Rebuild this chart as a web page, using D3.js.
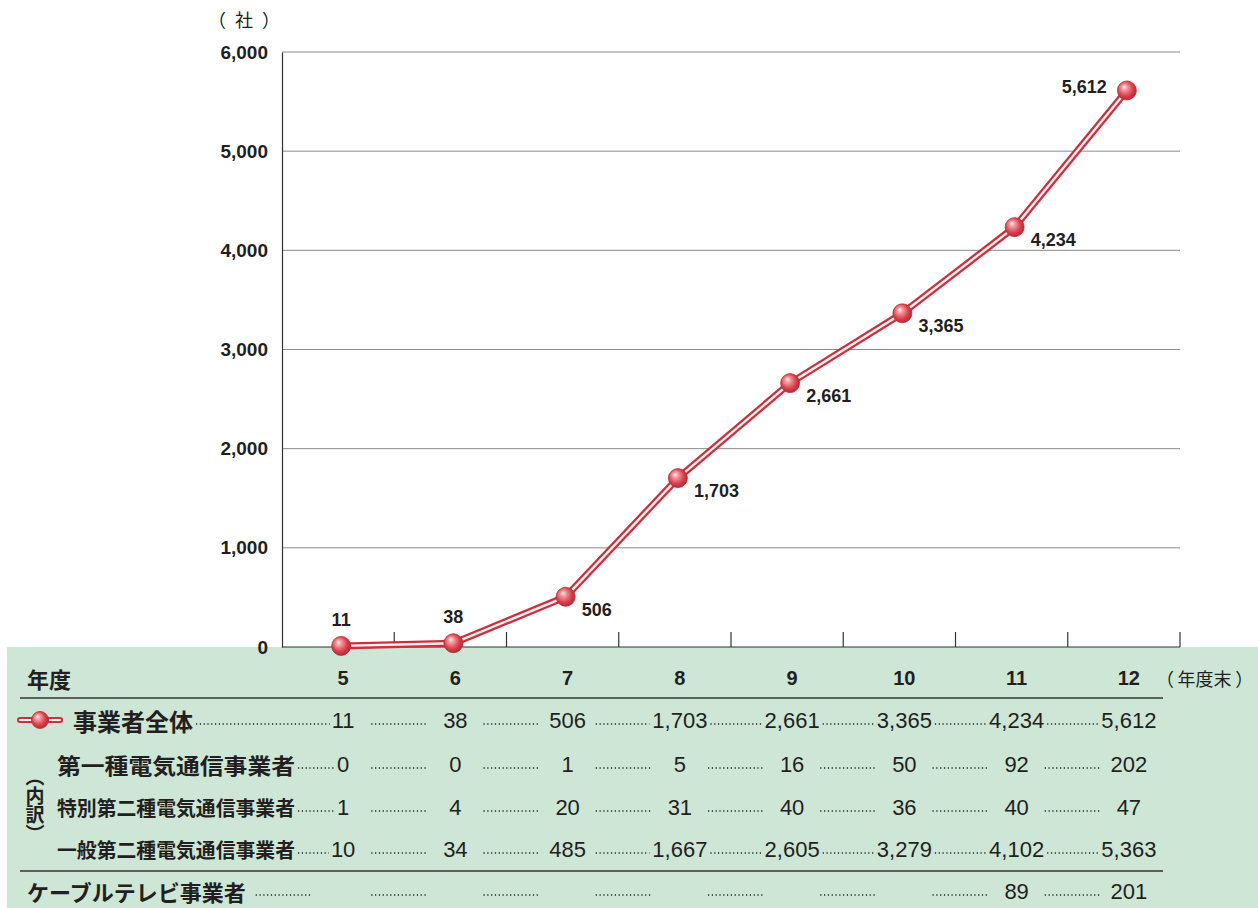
<!DOCTYPE html>
<html>
<head>
<meta charset="utf-8">
<script src="https://cdn.jsdelivr.net/npm/d3@7"></script>
<style>
  body { margin: 0; background: #fff; }
  svg { display: block; }
</style>
</head>
<body>
<div id="chart"></div>
<script>
// values
var years = ["5", "6", "7", "8", "9", "10", "11", "12"];
var total = [11, 38, 506, 1703, 2661, 3365, 4234, 5612];
var type1 = [0, 0, 1, 5, 16, 50, 92, 202];
var special2 = [1, 4, 20, 31, 40, 36, 40, 47];
var general2 = [10, 34, 485, 1667, 2605, 3279, 4102, 5363];
var cable = [null, null, null, null, null, null, 89, 201];
var yTicks = [0, 1000, 2000, 3000, 4000, 5000, 6000];

var rowLabels = ["事業者全体", "第一種電気通信事業者", "特別第二種電気通信事業者", "一般第二種電気通信事業者", "ケーブルテレビ事業者"];

var W = 1258, H = 908;
var numFont = "'Liberation Sans', Arial, sans-serif";
var jpFont = "'Noto Sans CJK JP', 'Noto Sans', sans-serif";
var ink = "#231f20";

var svg = d3.select("#chart").append("svg")
    .attr("width", W)
    .attr("height", H);

var defs = svg.append("defs");
var grad = defs.append("radialGradient")
    .attr("id", "ball")
    .attr("cx", "45%").attr("cy", "45%").attr("r", "60%")
    .attr("fx", "35%").attr("fy", "30%");
grad.append("stop").attr("offset", "0%").attr("stop-color", "#fff1f1");
grad.append("stop").attr("offset", "25%").attr("stop-color", "#f29a9e");
grad.append("stop").attr("offset", "65%").attr("stop-color", "#da424c");
grad.append("stop").attr("offset", "100%").attr("stop-color", "#b3202b");

// scales
var x = d3.scaleBand().domain(years).range([282, 1180]);
var y = d3.scaleLinear().domain([0, 6000]).range([647, 52]);
var cx = function (d) { return x(d) + x.bandwidth() / 2 + 3; };

// green table background
svg.append("rect")
    .attr("x", 7).attr("y", y(0))
    .attr("width", W - 7).attr("height", H - y(0))
    .attr("fill", "#cde6d6");

// gridlines
svg.append("g")
    .selectAll("line")
    .data(yTicks.slice(1))
    .enter().append("line")
    .attr("x1", 282).attr("x2", 1180)
    .attr("y1", function (d) { return y(d); })
    .attr("y2", function (d) { return y(d); })
    .attr("stroke", "#8a8a8a")
    .attr("stroke-width", 1);

// y axis
var yAxis = svg.append("g")
    .attr("transform", "translate(282,0)")
    .call(d3.axisLeft(y).tickValues(yTicks).tickSize(0).tickPadding(14).tickFormat(d3.format(",")));
yAxis.select(".domain").attr("stroke", "#333").attr("stroke-width", 1.2);
yAxis.selectAll("text")
    .attr("font-family", numFont)
    .attr("font-weight", "bold")
    .attr("font-size", 19)
    .attr("fill", ink);

// bottom axis with upward ticks at band edges
svg.append("line")
    .attr("x1", 282).attr("x2", 1180)
    .attr("y1", y(0)).attr("y2", y(0))
    .attr("stroke", "#333").attr("stroke-width", 1.2);
svg.append("g")
    .selectAll("line")
    .data(years)
    .enter().append("line")
    .attr("x1", function (d) { return x(d) + x.bandwidth(); })
    .attr("x2", function (d) { return x(d) + x.bandwidth(); })
    .attr("y1", y(0)).attr("y2", y(0) - 15)
    .attr("stroke", "#333").attr("stroke-width", 1.2);

// unit
svg.append("text")
    .attr("x", 244).attr("y", 27)
    .attr("text-anchor", "middle")
    .attr("font-family", jpFont)
    .attr("font-size", 18)
    .attr("fill", ink)
    .text("（\u2002社\u2002）");

// line
var pts = years.map(function (d, i) { return [cx(d), y(total[i])]; });
var line = d3.line();
svg.append("path")
    .attr("d", line(pts))
    .attr("fill", "none")
    .attr("stroke", "#cf2f3b")
    .attr("stroke-width", 7)
    .attr("stroke-linejoin", "round");
svg.append("path")
    .attr("d", line(pts))
    .attr("fill", "none")
    .attr("stroke", "#fff3f3")
    .attr("stroke-width", 2.4)
    .attr("stroke-linejoin", "round");

svg.append("g")
    .selectAll("circle")
    .data(pts)
    .enter().append("circle")
    .attr("cx", function (d) { return d[0]; })
    .attr("cy", function (d) { return d[1]; })
    .attr("r", 9.5)
    .attr("fill", "url(#ball)")
    .attr("stroke", "#c22a35")
    .attr("stroke-width", 0.8);

// data labels
var fmt = d3.format(",");
svg.append("g")
    .selectAll("text")
    .data(total)
    .enter().append("text")
    .attr("x", function (d, i) {
        if (i < 2) return pts[i][0];
        if (i === total.length - 1) return pts[i][0] - 20;
        return pts[i][0] + 16;
    })
    .attr("y", function (d, i) {
        if (i < 2) return pts[i][1] - 20;
        if (i === total.length - 1) return pts[i][1] + 3;
        return pts[i][1] + 19;
    })
    .attr("text-anchor", function (d, i) {
        if (i < 2) return "middle";
        if (i === total.length - 1) return "end";
        return "start";
    })
    .attr("font-family", numFont)
    .attr("font-weight", "bold")
    .attr("font-size", 18)
    .attr("fill", ink)
    .text(function (d) { return fmt(d); });

// ---- table ----
var colX = function (d) { return cx(d) + 2; };
var headerY = 678;
var rowY = [720, 764, 807, 849, 891];

svg.append("text")
    .attr("x", 27).attr("y", headerY)
    .attr("dominant-baseline", "central")
    .attr("font-family", jpFont)
    .attr("font-weight", "bold")
    .attr("font-size", 22)
    .attr("fill", ink)
    .text("年度");

svg.append("g")
    .selectAll("text")
    .data(years)
    .enter().append("text")
    .attr("x", colX)
    .attr("y", headerY)
    .attr("dominant-baseline", "central")
    .attr("text-anchor", "middle")
    .attr("font-family", numFont)
    .attr("font-weight", "bold")
    .attr("font-size", 20)
    .attr("fill", ink)
    .text(function (d) { return d; });

svg.append("text")
    .attr("x", 1156).attr("y", headerY)
    .attr("dominant-baseline", "central")
    .attr("font-family", jpFont)
    .attr("font-size", 18)
    .attr("fill", ink)
    .text("（\u2009年度末\u2009）");

// rules
[698, 871].forEach(function (ry) {
    svg.append("line")
        .attr("x1", 20).attr("x2", 1163)
        .attr("y1", ry).attr("y2", ry)
        .attr("stroke", "#333").attr("stroke-width", 1.5);
});

// legend marker
svg.append("line")
    .attr("x1", 20).attr("x2", 60).attr("y1", rowY[0]).attr("y2", rowY[0])
    .attr("stroke", "#cf2f3b").attr("stroke-width", 6).attr("stroke-linecap", "round");
svg.append("line")
    .attr("x1", 20).attr("x2", 60).attr("y1", rowY[0]).attr("y2", rowY[0])
    .attr("stroke", "#fff3f3").attr("stroke-width", 2).attr("stroke-linecap", "round");
svg.append("circle")
    .attr("cx", 40).attr("cy", rowY[0]).attr("r", 8.5)
    .attr("fill", "url(#ball)").attr("stroke", "#c22a35").attr("stroke-width", 0.8);

// vertical （内訳）
svg.append("text")
    .attr("x", 35).attr("y", 805)
    .attr("text-anchor", "middle")
    .style("writing-mode", "vertical-rl")
    .attr("font-family", jpFont)
    .attr("font-weight", "bold")
    .attr("font-size", 19)
    .attr("fill", ink)
    .text("（内訳）");

var rows = [total, type1, special2, general2, cable];
var labelX = [73, 57, 57, 57, 27];
var labelSize = [24, 22, 20, 20, 22];

function leader(g, x1, x2, yy) {
    if (x2 - x1 < 4) return;
    g.append("line")
        .attr("x1", x1).attr("x2", x2)
        .attr("y1", yy + 4).attr("y2", yy + 4)
        .attr("stroke", ink)
        .attr("stroke-width", 1.3)
        .attr("stroke-dasharray", "1.2,2.6");
}

rows.forEach(function (vals, r) {
    var g = svg.append("g");
    var yy = rowY[r];
    var lab = g.append("text")
        .attr("x", labelX[r]).attr("y", yy)
        .attr("dominant-baseline", "central")
        .attr("font-family", jpFont)
        .attr("font-weight", "bold")
        .attr("font-size", labelSize[r])
        .attr("fill", ink)
        .text(rowLabels[r]);
    if (r >= 1 && r <= 3) lab.attr("textLength", 238).attr("lengthAdjust", "spacingAndGlyphs");
    var lb = lab.node().getBBox();
    var labelEnd = lb.x + lb.width;

    var spans = vals.map(function (v, i) {
        if (v === null) return null;
        var t = g.append("text")
            .attr("x", colX(years[i])).attr("y", yy)
            .attr("dominant-baseline", "central")
            .attr("text-anchor", "middle")
            .attr("font-family", numFont)
            .attr("font-size", 22)
            .attr("fill", ink)
            .text(fmt(v));
        var b = t.node().getBBox();
        return [b.x, b.x + b.width];
    });

    // leader from label to first column
    if (spans[0]) leader(g, labelEnd + 3, spans[0][0] - 2, yy);
    else leader(g, labelEnd + 10, labelEnd + 65, yy);

    // leaders between columns
    for (var i = 0; i < years.length - 1; i++) {
        var mid = (colX(years[i]) + colX(years[i + 1])) / 2;
        var a = mid - 28, b = mid + 28;
        if (spans[i]) a = Math.max(a, spans[i][1] + 3);
        if (spans[i + 1]) b = Math.min(b, spans[i + 1][0] - 3);
        leader(g, a, b, yy);
    }
});
</script>
</body>
</html>
